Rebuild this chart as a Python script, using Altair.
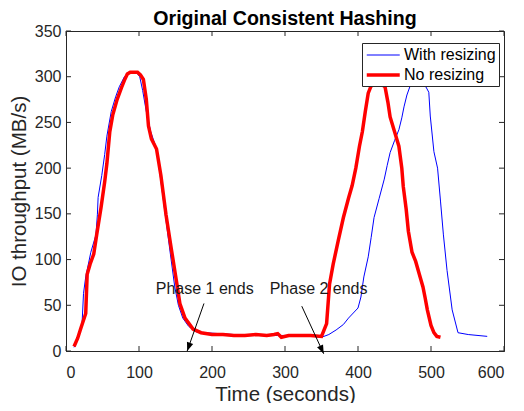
import math
import altair as alt
import pandas as pd

# ---- data ----
series_names = ["With resizing", "No resizing"]

red_x = [11, 16, 20, 27, 29, 33, 38, 42, 48, 53, 56, 60, 64, 70, 76, 80, 84, 88, 98, 102,
         106, 110, 113, 117, 124, 130, 137, 144, 151, 156, 163, 174, 185, 200, 215, 230, 245,
         260, 275, 285, 290, 295, 305, 320, 335, 350, 357, 361, 366, 373, 380, 387, 392, 397,
         402, 406, 410, 414, 418, 424, 432, 437, 441, 444, 450, 456, 460, 462, 466, 469, 474,
         479, 484, 489, 492, 495, 500, 504, 508, 513]
red_y = [5, 14, 24, 41, 84, 95, 106, 127, 157, 185, 205, 240, 258, 275, 288, 296, 303, 305, 305, 302,
         297, 275, 246, 232, 221, 192, 149, 113, 78, 52, 36, 24, 20, 18, 18, 17, 17,
         18, 17, 18, 19, 15, 17, 17, 17, 16, 30, 73, 95, 121, 146, 167, 181, 200,
         224, 240, 262, 282, 290, 292, 292, 289, 272, 256, 240, 224, 200, 180, 155, 131, 108,
         98, 84, 70, 58, 45, 28, 20, 16, 15]

blue_x = [11, 16, 22, 24, 27, 34, 41, 43, 44, 49, 53, 56, 62, 68, 73, 80, 86, 96, 101, 105,
          110, 116, 124, 129, 136, 143, 149, 154, 160, 168, 178, 190, 210, 230, 250, 270, 290,
          310, 330, 350, 360, 370, 380, 387, 400, 404, 408, 414, 418, 422, 429, 436, 440, 444,
          450, 456, 460, 463, 467, 471, 476, 486, 493, 497, 499, 504, 509, 513, 517, 522, 529,
          537, 551, 577]
blue_y = [4, 12, 30, 63, 81, 108, 127, 149, 168, 192, 215, 235, 262, 278, 289, 300, 305, 305, 300, 285,
          262, 240, 221, 192, 149, 106, 70, 50, 36, 27, 21, 20, 19, 18, 17, 17, 17,
          17, 17, 15, 18, 23, 29, 36, 47, 59, 81, 103, 124, 146, 167, 188, 203, 217,
          230, 242, 255, 267, 280, 289, 291, 291, 289, 283, 257, 218, 200, 164, 127, 88, 45,
          20, 18, 16]

x_ticks = [0, 100, 200, 300, 400, 500, 600]
y_ticks = [0, 50, 100, 150, 200, 250, 300, 350]

notes = ["Phase 1 ends", "Phase 2 ends"]
note_x = [190, 346]
note_y = [68, 68]
arrow_x = [189, 323]
arrow_y = [52, 49]
arrow_x2 = [166, 353]
arrow_y2 = [0, -3]

# ---- layout ----
W, H = 438, 320
XMAX, YMAX = 600, 350
FONT = "Liberation Sans"
AX = "#262626"

df_blue = pd.DataFrame({"t": blue_x, "tp": blue_y, "series": series_names[0]})
df_red = pd.DataFrame({"t": red_x, "tp": red_y, "series": series_names[1]})

angles = []
for x1, y1, x2, y2 in zip(arrow_x, arrow_y, arrow_x2, arrow_y2):
    dx = (x2 - x1) * W / XMAX
    dy = -(y2 - y1) * H / YMAX
    angles.append(math.degrees(math.atan2(-dx, dy)) % 360)

df_arrows = pd.DataFrame({"t": arrow_x, "tp": arrow_y, "t2": arrow_x2, "tp2": arrow_y2, "ang": angles})
df_notes = pd.DataFrame({"t": note_x, "tp": note_y, "label": notes})
df_xt = pd.DataFrame({"t": x_ticks})
df_yt = pd.DataFrame({"tp": y_ticks})

xs = alt.Scale(domain=[0, XMAX], nice=False, zero=False)
ys = alt.Scale(domain=[0, YMAX], nice=False, zero=False)

x_axis = alt.Axis(values=x_ticks, ticks=False, grid=False, format="d",
                  labelFontSize=16, labelFont=FONT, labelColor=AX, labelPadding=13,
                  title="Time (seconds)", titleFontSize=20.5, titleFont=FONT,
                  titleFontWeight="normal", titleColor=AX, titlePadding=4,
                  domainColor=AX)
y_axis = alt.Axis(values=y_ticks, ticks=False, grid=False, format="d",
                  labelFontSize=16, labelFont=FONT, labelColor=AX, labelPadding=5,
                  title="IO throughput (MB/s)", titleFontSize=20.5, titleFont=FONT,
                  titleFontWeight="normal", titleColor=AX, titlePadding=5,
                  domainColor=AX)

legend = alt.Legend(orient="none", legendX=296, legendY=12, title=None,
                    symbolType="M-1,0H3", symbolSize=272,
                    labelFontSize=16, labelFont=FONT, labelColor="black", labelOffset=19,
                    strokeColor=AX, fillColor="white", padding=3, rowPadding=2)

color = alt.Color("series:N", scale=alt.Scale(domain=series_names, range=["#0000ff", "#ff0000"]),
                  legend=legend)
sw = alt.StrokeWidth("series:N", scale=alt.Scale(domain=series_names, range=[1, 3.5]),
                     legend=legend)

X = alt.X("t:Q", scale=xs, axis=x_axis)
Y = alt.Y("tp:Q", scale=ys, axis=y_axis)

blue = alt.Chart(df_blue).mark_line(clip=True).encode(x=X, y=Y, color=color, strokeWidth=sw)
red = alt.Chart(df_red).mark_line(clip=True).encode(x=X, y=Y, color=color, strokeWidth=sw)

arrow_lines = alt.Chart(df_arrows).mark_rule(color="black", strokeWidth=1).encode(
    x="t:Q", y="tp:Q", x2="t2:Q", y2="tp2:Q")
arrow_heads = alt.Chart(df_arrows).mark_point(
    shape="M0,0L-0.38,-1L0.38,-1Z", filled=True, size=300, color="black", opacity=1,
    strokeWidth=0).encode(x="t2:Q", y="tp2:Q", angle=alt.Angle("ang:Q", scale=None))
note_text = alt.Chart(df_notes).mark_text(fontSize=16, font=FONT, color="#1a1a1a",
                                          baseline="middle", align="center").encode(
    x="t:Q", y="tp:Q", text="label:N")

tick_bottom = alt.Chart(df_xt).mark_rule(color=AX).encode(x="t:Q", y=alt.value(H), y2=alt.value(H - 5))
tick_top = alt.Chart(df_xt).mark_rule(color=AX).encode(x="t:Q", y=alt.value(0), y2=alt.value(5))
tick_left = alt.Chart(df_yt).mark_rule(color=AX).encode(y="tp:Q", x=alt.value(0), x2=alt.value(5))
tick_right = alt.Chart(df_yt).mark_rule(color=AX).encode(y="tp:Q", x=alt.value(W), x2=alt.value(W - 5))

chart = alt.layer(
    tick_bottom, tick_top, tick_left, tick_right,
    blue, red, arrow_lines, arrow_heads, note_text,
).properties(
    width=W, height=H,
    title=alt.Title("Original Consistent Hashing", fontSize=19.6, font=FONT,
                    fontWeight="bold", color="black", anchor="middle", offset=-7),
    autosize=alt.AutoSizeParams(type="none"),
    padding={"left": 58, "top": 23, "right": 12, "bottom": 52},
    background="white",
).configure_view(stroke=AX, strokeWidth=1)

chart.save("out.html", embed_options={"renderer": "svg", "actions": False})
